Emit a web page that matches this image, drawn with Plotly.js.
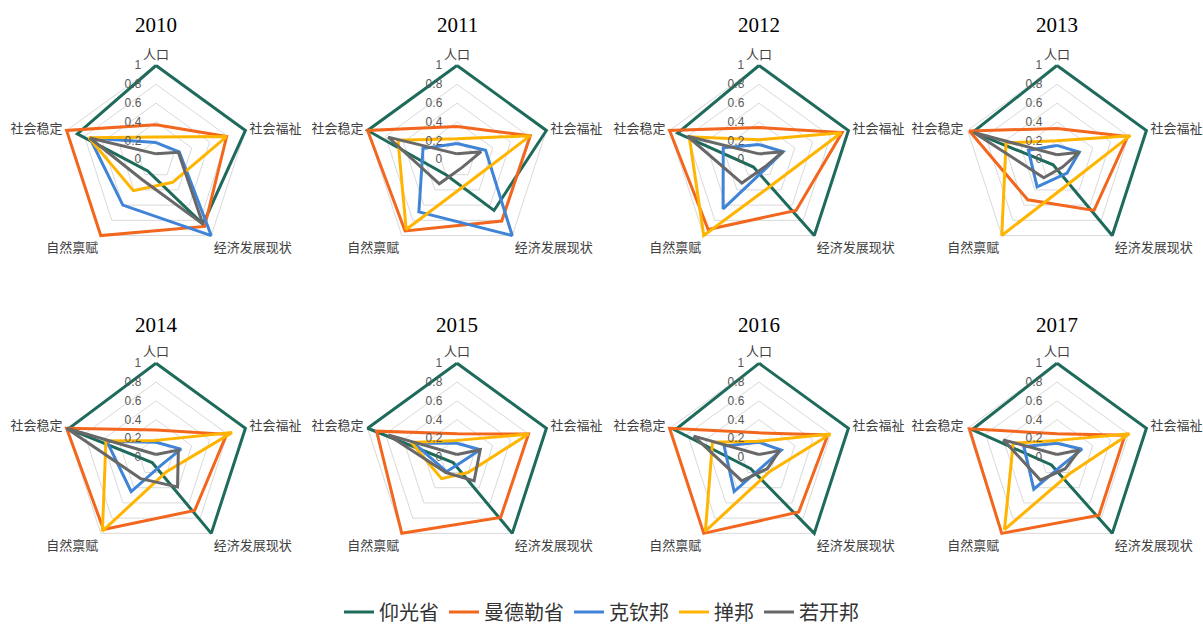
<!DOCTYPE html>
<html>
<head>
<meta charset="utf-8">
<script src="https://cdn.plot.ly/plotly-3.0.1.min.js"></script>
<style>
  html, body { margin: 0; padding: 0; background: #ffffff; }
  #chart { width: 1203px; height: 629px; }
</style>
</head>
<body>
<div id="chart"></div>
<script>
// ---- data ----
const categories = ['人口', '社会福祉', '经济发展现状', '自然禀赋', '社会稳定'];
const years = ['2010', '2011', '2012', '2013', '2014', '2015', '2016', '2017'];
const seriesNames = ['仰光省', '曼德勒省', '克钦邦', '掸邦', '若开邦'];

// values per year, in category order
const yangon = [
  [1.00, 1.00, 0.85, 0.15, 0.88],
  [1.00, 1.00, 0.67, 0.20, 1.00],
  [1.00, 1.00, 1.00, 0.10, 0.91],
  [1.00, 1.00, 1.00, 0.07, 0.94],
  [1.00, 1.00, 1.00, 0.07, 0.98],
  [1.00, 1.00, 1.00, 0.07, 1.00],
  [1.00, 1.00, 1.00, 0.15, 0.94],
  [1.00, 1.00, 1.00, 0.10, 0.95]
];
const mandalay = [
  [0.37, 0.79, 0.88, 1.00, 1.00],
  [0.35, 0.82, 0.81, 0.94, 1.00],
  [0.34, 0.93, 0.67, 0.92, 1.00],
  [0.33, 0.79, 0.67, 0.53, 0.98],
  [0.29, 0.79, 0.70, 0.95, 1.00],
  [0.25, 0.80, 0.79, 1.00, 0.90],
  [0.26, 0.77, 0.72, 1.00, 1.00],
  [0.25, 0.76, 0.76, 1.00, 0.98]
];
const kachin = [
  [0.18, 0.26, 1.00, 0.60, 0.74],
  [0.17, 0.32, 1.00, 0.69, 0.38],
  [0.16, 0.27, 0.12, 0.65, 0.40],
  [0.15, 0.25, 0.18, 0.36, 0.32],
  [0.16, 0.28, 0.10, 0.45, 0.55],
  [0.15, 0.26, 0.07, 0.19, 0.48],
  [0.16, 0.25, 0.10, 0.45, 0.39],
  [0.15, 0.28, 0.10, 0.42, 0.37]
];
const shan = [
  [0.24, 0.79, 0.30, 0.41, 0.75],
  [0.22, 0.82, 0.27, 0.92, 0.66],
  [0.21, 0.92, 0.30, 1.00, 0.78],
  [0.20, 0.82, 0.28, 1.00, 0.57],
  [0.18, 0.85, 0.19, 0.97, 0.56],
  [0.18, 0.80, 0.20, 0.28, 0.51],
  [0.17, 0.80, 0.19, 0.97, 0.52],
  [0.18, 0.81, 0.22, 0.95, 0.49]
];
const rakhine = [
  [0.06, 0.25, 0.85, 0.26, 0.74],
  [0.06, 0.27, 0.10, 0.32, 0.77],
  [0.06, 0.27, 0.10, 0.31, 0.80],
  [0.05, 0.25, 0.10, 0.24, 0.93],
  [0.03, 0.25, 0.39, 0.28, 1.00],
  [0.03, 0.26, 0.31, 0.20, 0.77],
  [0.03, 0.23, 0.15, 0.31, 0.73],
  [0.03, 0.25, 0.15, 0.30, 0.60]
];
const radialTicks = [0, 0.2, 0.4, 0.6, 0.8, 1];
const radialTickText = ['0', '0.2', '0.4', '0.6', '0.8', '1'];

// ---- style ----
const allSeries = [yangon, mandalay, kachin, shan, rakhine];
const colors = ['#1E6B5B', '#F2661E', '#3F84D6', '#FFB500', '#686868'];
const W = 1203, H = 629;
const RMAX = 1.04;            // radial range head-room so edge lines are not clipped
const RAD = 94 * RMAX;        // pixel radius of the polar domain
const colCenters = [156, 457, 759, 1057];
const rowCenters = [159.5, 457.3];
const titleY = [25, 325];

const data = [];
const layout = {
  width: W, height: H,
  margin: {l: 0, r: 0, t: 0, b: 0, autoexpand: false},
  paper_bgcolor: '#ffffff',
  plot_bgcolor: '#ffffff',
  showlegend: true,
  legend: {
    orientation: 'h', x: 0.5, xanchor: 'center', y: 1 - 612 / H, yanchor: 'middle',
    font: {family: 'Noto Sans CJK SC', size: 20, color: '#333333'},
    itemwidth: 30, tracegroupgap: 0
  },
  annotations: []
};

years.forEach((yr, i) => {
  const col = i % 4, row = Math.floor(i / 4);
  const cx = colCenters[col], cy = rowCenters[row];
  const key = i === 0 ? 'polar' : 'polar' + (i + 1);
  layout[key] = {
    domain: {
      x: [(cx - RAD) / W, (cx + RAD) / W],
      y: [1 - (cy + RAD) / H, 1 - (cy - RAD) / H]
    },
    gridshape: 'linear',
    bgcolor: 'rgba(0,0,0,0)',
    radialaxis: {
      range: [0, RMAX], tickvals: radialTicks, ticktext: radialTickText,
      angle: 90, tickangle: 90, side: 'counterclockwise',
      showline: false, ticks: 'outside', ticklen: 10, tickcolor: 'rgba(0,0,0,0)',
      gridcolor: '#D9D9D9', gridwidth: 1,
      tickfont: {family: 'Liberation Sans', size: 12, color: '#595959'}
    },
    angularaxis: {
      type: 'category', categoryarray: categories, direction: 'clockwise', rotation: 90,
      showgrid: false, showline: false, ticks: '',
      tickfont: {family: 'Noto Sans CJK SC', size: 13, color: '#404040'}
    }
  };
  layout.annotations.push({
    text: yr, xref: 'paper', yref: 'paper', x: cx / W, y: 1 - titleY[row] / H,
    xanchor: 'center', yanchor: 'middle', showarrow: false,
    font: {family: 'Liberation Serif', size: 21, color: '#000000'}
  });
  allSeries.forEach((s, k) => {
    const vals = s[i];
    data.push({
      type: 'scatterpolar', mode: 'lines', subplot: key, cliponaxis: false,
      r: vals.concat([vals[0]]),
      theta: categories.concat([categories[0]]),
      name: seriesNames[k], legendgroup: seriesNames[k], showlegend: i === 0,
      line: {color: colors[k], width: 3},
      hoverinfo: 'skip'
    });
  });
});

Plotly.newPlot('chart', data, layout, {displayModeBar: false, staticPlot: true});
</script>
</body>
</html>
